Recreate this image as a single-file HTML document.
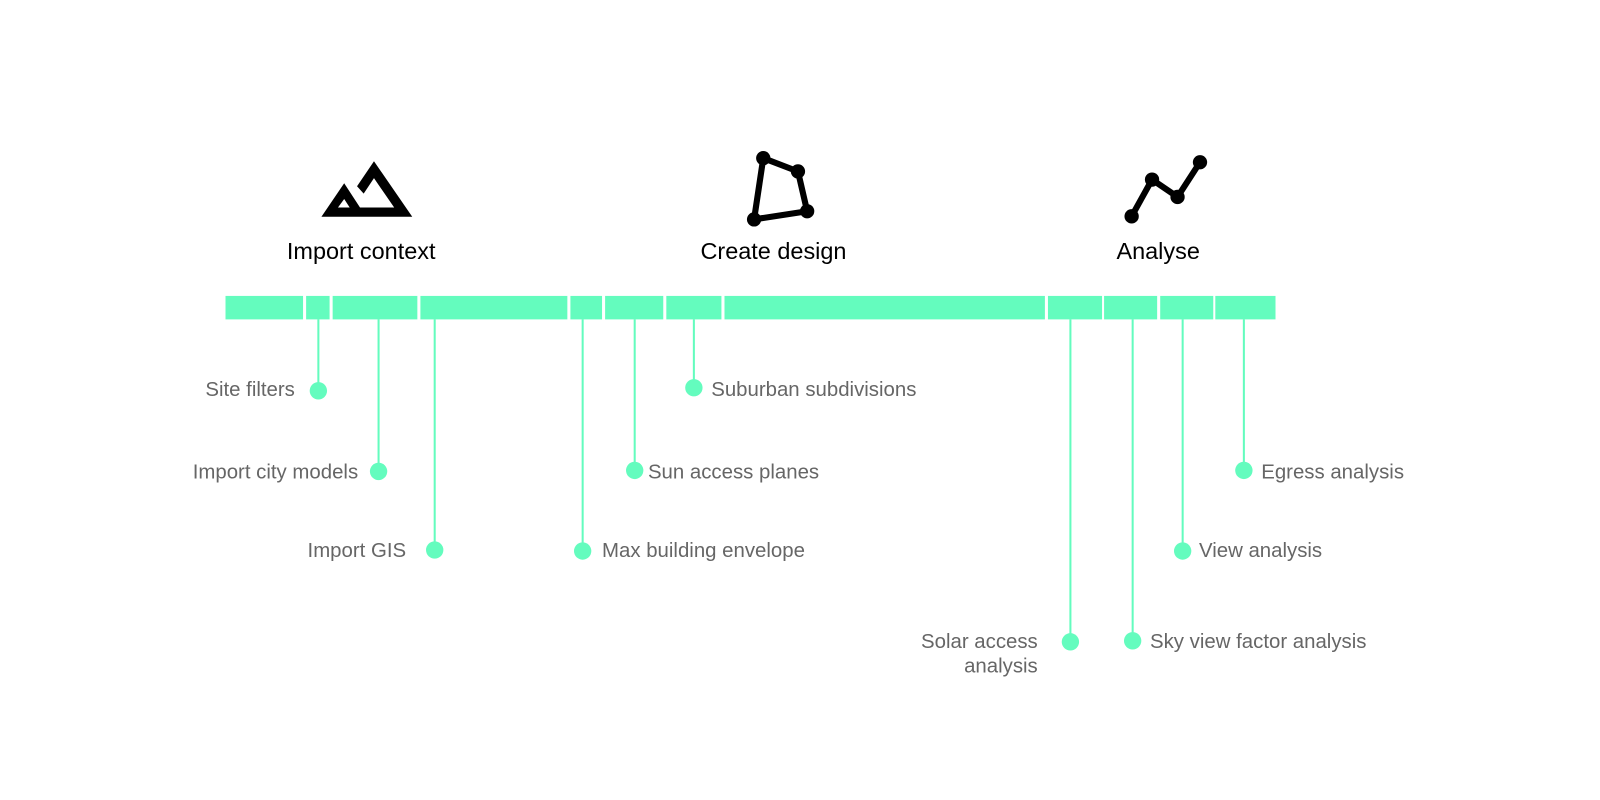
<!DOCTYPE html>
<html><head><style>
body{margin:0;background:#fff;width:1600px;height:800px;overflow:hidden;font-family:"Liberation Sans",sans-serif}
svg{display:block}
</style></head><body>
<svg width="1600" height="800" viewBox="0 0 1568 784" xmlns="http://www.w3.org/2000/svg">
<path fill="#000" fill-rule="evenodd" d="M315,212.4 L337.3,179.6 L352.8,203.4 L386.3,203.4 L366.5,174.6 L356.4,189.7 L349.9,182.5 L366.5,158 L404,212.4 Z M331.2,203.4 L337.3,195 L342.7,203.4 Z"/>
<g fill="none" stroke="#000" stroke-width="6">
<polygon points="748,155 782,168 791,207 739,215" stroke-linejoin="round"/>
<polyline points="1109,212 1129,176 1154,193 1176,159"/>
</g>
<g fill="#000">
<circle cx="748" cy="155" r="7"/><circle cx="782" cy="168" r="7"/><circle cx="791" cy="207" r="7"/><circle cx="739" cy="215" r="7"/>
<circle cx="1109" cy="212" r="7"/><circle cx="1129" cy="176" r="7"/><circle cx="1154" cy="193" r="7"/><circle cx="1176" cy="159" r="7"/>
</g>
<g font-size="23" fill="#000" text-anchor="middle">
<text x="354" y="254">Import context</text>
<text x="758" y="254">Create design</text>
<text x="1135" y="254">Analyse</text>
</g>
<g fill="#64fcbe">
<rect x="221" y="290" width="76" height="23"/>
<rect x="300" y="290" width="23" height="23"/>
<rect x="326" y="290" width="83" height="23"/>
<rect x="412" y="290" width="144" height="23"/>
<rect x="559" y="290" width="31" height="23"/>
<rect x="593" y="290" width="57" height="23"/>
<rect x="653" y="290" width="54" height="23"/>
<rect x="710" y="290" width="314" height="23"/>
<rect x="1027" y="290" width="53" height="23"/>
<rect x="1082" y="290" width="52" height="23"/>
<rect x="1137" y="290" width="52" height="23"/>
<rect x="1191" y="290" width="59" height="23"/>
</g>
<g stroke="#64fcbe" stroke-width="2">
<line x1="312" y1="313" x2="312" y2="383"/>
<line x1="371" y1="313" x2="371" y2="462"/>
<line x1="426" y1="313" x2="426" y2="539"/>
<line x1="571" y1="313" x2="571" y2="540"/>
<line x1="622" y1="313" x2="622" y2="461"/>
<line x1="680" y1="313" x2="680" y2="380"/>
<line x1="1049" y1="313" x2="1049" y2="629"/>
<line x1="1110" y1="313" x2="1110" y2="628"/>
<line x1="1159" y1="313" x2="1159" y2="540"/>
<line x1="1219" y1="313" x2="1219" y2="461"/>
</g>
<g fill="#64fcbe">
<circle cx="312" cy="383" r="8.5"/><circle cx="371" cy="462" r="8.5"/><circle cx="426" cy="539" r="8.5"/>
<circle cx="571" cy="540" r="8.5"/><circle cx="622" cy="461" r="8.5"/><circle cx="680" cy="380" r="8.5"/>
<circle cx="1049" cy="629" r="8.5"/><circle cx="1110" cy="628" r="8.5"/><circle cx="1159" cy="540" r="8.5"/><circle cx="1219" cy="461" r="8.5"/>
</g>
<g font-size="20" fill="#666">
<text x="289" y="388" text-anchor="end">Site filters</text>
<text x="351" y="469" text-anchor="end">Import city models</text>
<text x="398" y="546" text-anchor="end">Import GIS</text>
<text x="590" y="546">Max building envelope</text>
<text x="635" y="469">Sun access planes</text>
<text x="697" y="388">Suburban subdivisions</text>
<text x="1017" y="635" text-anchor="end">Solar access</text>
<text x="1017" y="659" text-anchor="end">analysis</text>
<text x="1127" y="635">Sky view factor analysis</text>
<text x="1175" y="546">View analysis</text>
<text x="1236" y="469">Egress analysis</text>
</g>
</svg>
</body></html>
